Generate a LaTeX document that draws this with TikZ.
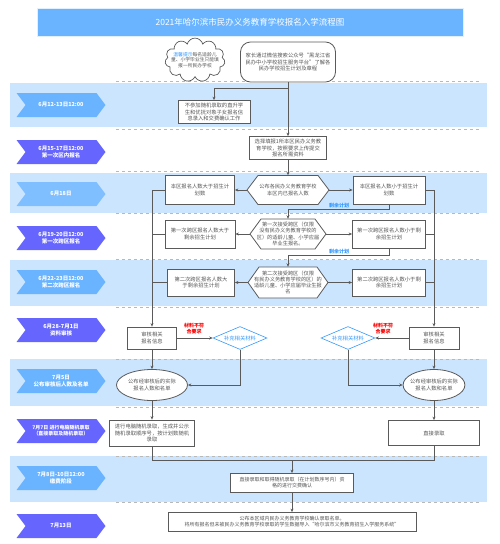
\documentclass[tikz,border=0pt]{standalone}
\usepackage{fontspec}
\setmainfont{Noto Sans CJK SC}
\usetikzlibrary{shapes.geometric,shapes.symbols,arrows.meta}

\definecolor{bandblue}{HTML}{CCE5FF}
\definecolor{tagblue}{HTML}{6AB4FF}
\definecolor{tagpurple}{HTML}{6666FF}
\definecolor{linegray}{HTML}{5A5A5A}
\definecolor{textgray}{HTML}{555555}
\definecolor{hintblue}{HTML}{3399FF}

\begin{document}
\begin{tikzpicture}[x=1pt,y=-1pt,
    box/.style={draw=linegray,fill=white,line width=0.8pt,text=textgray,align=center,
      font=\fontsize{5.3}{6.4}\selectfont,inner sep=0pt},
    hexlabel/.style={text=textgray,align=center,font=\fontsize{5.2}{6.2}\selectfont,inner sep=0pt},
    hexline/.style={draw=linegray,fill=white,line width=0.8pt},
    datetag/.style={shape=signal,signal from=west,signal to=east,signal pointer angle=106,
      minimum width=89pt,minimum height=24pt,text=white,align=center,
      font=\fontsize{5.5}{6.6}\selectfont\bfseries,inner sep=0pt},
    flow/.style={draw=linegray,line width=0.7pt,-{Stealth[length=3.5pt,width=3pt]}},
    joinline/.style={draw=linegray,line width=0.7pt},
    sepline/.style={draw=gray!55,dashed,line width=0.5pt},
    restlbl/.style={text=hintblue,font=\fontsize{5}{6}\selectfont\bfseries,inner sep=1pt},
    warnlbl/.style={text=red,align=center,font=\fontsize{5}{6}\selectfont\bfseries,inner sep=0pt},
    suppl/.style={diamond,aspect=2.35,draw=hintblue,fill=white,line width=0.6pt,text=hintblue,
      font=\fontsize{5.3}{6.4}\selectfont,inner sep=0pt,minimum width=54pt,minimum height=23pt},
    notice/.style={ellipse,draw=linegray,fill=white,line width=0.8pt,text=textgray,align=center,
      font=\fontsize{5.3}{6.4}\selectfont,inner sep=-2pt,minimum height=31pt}]

    \useasboundingbox (0,0) rectangle (500,544);

    \fill[bandblue] (10,83) rectangle (487,127);
    \fill[bandblue] (10,173) rectangle (487,213);
    \fill[bandblue] (10,260) rectangle (487,306);
    \fill[bandblue] (10,359) rectangle (487,406);
    \fill[bandblue] (10,456) rectangle (487,502);
    \foreach \yy in {81,129,171,213,259,307,359,407,456,502}
        \draw[sepline] (116,\yy) -- (479,\yy);

    \node[fill=tagblue,draw=white!80!tagblue,minimum width=426pt,minimum height=28pt,text=white,
      font=\fontsize{8.5}{10}\selectfont] (title) at (250,22) {2021年哈尔滨市民办义务教育学校报名入学流程图};

    \node[datetag,fill=tagblue] (t1) at (61,105) {6月12-13日12:00};
    \node[datetag,fill=tagpurple] (t2) at (61,152) {6月15-17日12:00\\第一次区内报名};
    \node[datetag,fill=tagblue!85] (t3) at (61,194) {6月18日};
    \node[datetag,fill=tagpurple] (t4) at (61,238) {6月19-20日12:00\\第一次跨区报名};
    \node[datetag,fill=tagblue] (t5) at (61,282) {6月22-23日12:00\\第二次跨区报名};
    \node[datetag,fill=tagpurple] (t6) at (61,330) {6月28-7月1日\\资料审核};
    \node[datetag,fill=tagblue] (t7) at (61,381) {7月5日\\公布审核后人数及名单};
    \node[datetag,fill=tagpurple,font=\fontsize{5}{6.2}\selectfont\bfseries] (t8) at (61,431) {7月7日 进行电脑随机录取\\（直接录取及随机录取）};
    \node[datetag,fill=tagblue] (t9) at (61,478) {7月8日-10日12:00\\缴费阶段};
    \node[datetag,fill=tagpurple] (t10) at (61,526) {7月13日};

    \node[cloud,cloud puffs=11,aspect=1.6,draw=linegray,fill=white,line width=0.7pt,text=textgray,
      align=center,font=\fontsize{4.8}{5.8}\selectfont,inner sep=-5pt,minimum width=60pt,
      minimum height=37pt] (hint) at (195,60)
      {\textcolor{hintblue}{温馨提示}每名适龄儿\\童、小学毕业生只能填\\报一所民办学校};
    \node[box,rounded corners=10pt,minimum width=95pt,minimum height=40pt] (pub) at (288,62)
      {家长通过微信搜索公众号“黑龙江省\\民办中小学校招生服务平台”了解各\\民办学校招生计划及章程};

    \node[box,minimum width=72pt,minimum height=23pt] (direct) at (214,112)
      {不参加随机录取的直升学\\生和优抚对象子女报名信\\息录入和交费确认工作};
    \node[box,minimum width=77pt,minimum height=23pt] (apply) at (288,148)
      {选择填报1所本区民办义务教\\育学校，按照要求上传提交\\报名所需资料};

    \foreach \cx/\cy/\hw/\hh in {288/190/41/14.5, 288/234/38/15, 288/282.5/40/15.5}
        \filldraw[hexline] (\cx-\hw,\cy) -- (\cx-\hw+11,\cy-\hh) -- (\cx+\hw-11,\cy-\hh)
          -- (\cx+\hw,\cy) -- (\cx+\hw-11,\cy+\hh) -- (\cx-\hw+11,\cy+\hh) -- cycle;

    \node[hexlabel,minimum width=82pt,minimum height=29pt] (hex1) at (288,190)
      {公布各民办义务教育学校\\本区内已报名人数};
    \node[box,minimum width=69pt,minimum height=29pt] (big1) at (200,190) {本区报名人数大于招生计\\划数};
    \node[box,minimum width=72pt,minimum height=28pt] (small1) at (389,190) {本区报名人数小于招生计\\划数};

    \node[hexlabel,minimum width=76pt,minimum height=30pt] (hex2) at (288,234)
      {第一次接受跨区（仅限\\没有民办义务教育学校的\\区）的适龄儿童、小学应届\\毕业生报名。};
    \node[box,minimum width=70pt,minimum height=28pt] (big2) at (200,234) {第一次跨区报名人数大于\\剩余招生计划};
    \node[box,minimum width=73pt,minimum height=28pt] (small2) at (389,234) {第一次跨区报名人数小于剩\\余招生计划};

    \node[hexlabel,minimum width=80pt,minimum height=31pt] (hex3) at (288,282.5)
      {第二次接受跨区（仅限\\有民办义务教育学校的区）的\\适龄儿童、小学应届毕业生报\\名};
    \node[box,minimum width=67pt,minimum height=27pt] (big3) at (201,282.5) {第二次跨区报名人数大\\于剩余招生计划};
    \node[box,minimum width=73pt,minimum height=27pt] (small3) at (389,282.5) {第二次跨区报名人数小于剩\\余招生计划};

    \node[box,minimum width=49pt,minimum height=22pt] (chkL) at (152,338) {审核相关\\报名信息};
    \node[box,minimum width=50pt,minimum height=22pt] (chkR) at (434,338) {审核相关\\报名信息};
    \node[suppl] (supL) at (240,338) {补充相关材料};
    \node[suppl] (supR) at (348,338) {补充相关材料};
    \node[warnlbl] (warnL) at (194,329) {材料不符\\合要求};
    \node[warnlbl] (warnR) at (383,329) {材料不符\\合要求};

    \node[notice,minimum width=71pt] (pubL) at (152,385) {公布经审核后的实际\\报名人数和名单};
    \node[notice,minimum width=58pt] (pubR) at (434,385) {公布经审核后的实际\\报名人数和名单};

    \node[box,minimum width=85pt,minimum height=26pt] (lotL) at (152,433)
      {进行电脑随机录取，生成并公示\\随机录取顺序号，按计划数随机\\录取};
    \node[box,minimum width=91pt,minimum height=25pt] (admR) at (434,433) {直接录取};

    \node[box,font=\fontsize{5}{6}\selectfont,minimum width=123pt,minimum height=19pt] (pay) at (292,483)
      {直接录取和取得随机录取（在计划数序号内）资\\格的进行交费确认};
    \node[box,font=\fontsize{5}{6}\selectfont,minimum width=248pt,minimum height=19pt] (fin) at (292,522)
      {公布本区域内民办义务教育学校确认录取名单。\\将所有报名但未被民办义务教育学校录取的学生数据导入“哈尔滨市义务教育招生入学服务系统”};

    \coordinate (fork1) at (288,88);
    \draw[flow] (pub) -- (apply);
    \draw[flow] (fork1) -| (direct);
    \draw[flow] (apply) -- (hex1);

    \draw[flow] (hex1) -- (big1);
    \draw[flow] (hex1) -- (small1);
    \draw[flow] (hex2) -- (big2);
    \draw[flow] (hex2) -- (small2);
    \draw[flow] (hex3) -- (big3);
    \draw[flow] (hex3) -- (small3);

    \coordinate (rest1) at (288,209);
    \coordinate (rest2) at (288,255);
    \draw[flow] (small1.south) |- (rest1) -- (hex2.north);
    \draw[flow] (small2.south) |- (rest2) -- (hex3.north);
    \node[restlbl,above] (rl1) at (339,209) {剩余计划};
    \node[restlbl,above] (rl2) at (339,255) {剩余计划};

    \draw[flow] (big1.west) -| (chkL.north);
    \draw[joinline] (big2.west) -- (big2.west -| chkL.north);
    \draw[joinline] (big3.west) -- (big3.west -| chkL.north);
    \draw[flow] (small1.east) -| (chkR.north);
    \draw[joinline] (small2.east) -- (small2.east -| chkR.north);
    \draw[joinline] (small3.east) -- (small3.east -| chkR.north);

    \draw[flow] (chkL) -- (supL);
    \draw[flow] (chkR) -- (supR);
    \draw[flow] (chkL) -- (pubL);
    \draw[flow] (chkR) -- (pubR);
    \draw[flow] (supL.south) |- (pubL.east);
    \draw[flow] (supR.south) |- (pubR.west);

    \draw[flow] (pubL) -- (lotL);
    \draw[flow] (pubR) -- (admR);
    \coordinate (merge) at (292,460);
    \draw[joinline] (lotL.south) |- (merge);
    \draw[joinline] (admR.south) |- (merge);
    \draw[flow] (merge) -- (pay);
    \draw[flow] (pay) -- (fin);
\end{tikzpicture}
\end{document}
